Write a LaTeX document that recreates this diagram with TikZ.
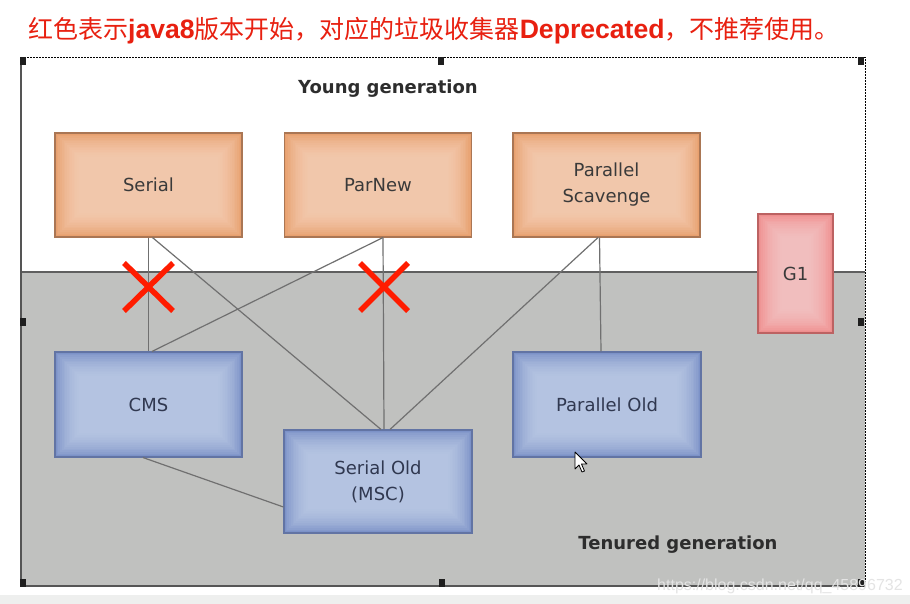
\documentclass[tikz,border=0pt]{standalone}
\usepackage{fontspec}
\newfontfamily\cjk{Noto Sans CJK SC}
\newfontfamily\lat{Liberation Sans}
\newfontfamily\lab{DejaVu Sans}
\definecolor{titlered}{RGB}{232,32,16}
\definecolor{orIn}{RGB}{250,214,190}
\definecolor{orOut}{RGB}{232,160,110}
\definecolor{orBorder}{RGB}{170,118,84}
\definecolor{blIn}{RGB}{198,211,236}
\definecolor{blOut}{RGB}{124,146,200}
\definecolor{blBorder}{RGB}{98,116,164}
\definecolor{pkIn}{RGB}{250,206,206}
\definecolor{pkOut}{RGB}{238,142,142}
\definecolor{pkBorder}{RGB}{188,98,98}
\definecolor{tenured}{RGB}{192,193,191}
\definecolor{sepgray}{RGB}{95,95,95}
\definecolor{framegray}{RGB}{85,85,85}
\definecolor{conngray}{RGB}{112,112,112}
\definecolor{labtext}{RGB}{58,58,58}
\definecolor{oldtext}{RGB}{48,56,80}
\definecolor{gentext}{RGB}{45,45,45}
\definecolor{handlecol}{RGB}{30,30,30}
\definecolor{wmcol}{RGB}{228,228,228}
\definecolor{xred}{RGB}{255,28,0}
\definecolor{strip}{RGB}{238,239,238}
\begin{document}
\begin{tikzpicture}[x=1pt,y=-1pt,
  glow/.style={path picture={
    \foreach \i in {1,...,14}
      \fill[#1, opacity=0.11]
        ([shift={(\i*1.7pt,-\i*1.7pt)}]path picture bounding box.north west) rectangle
        ([shift={(-\i*1.7pt,\i*1.7pt)}]path picture bounding box.south east);}},
  box/.style={rectangle, line width=1.1pt, align=center, inner sep=0pt,
    font=\lab\fontsize{18}{26}\selectfont, text=labtext},
  youngbox/.style={box, draw=orBorder, fill=orOut, glow=orIn,
    minimum width=187pt, minimum height=104pt},
  oldbox/.style={box, draw=blBorder, fill=blOut, glow=blIn,
    minimum width=187pt, minimum height=105pt, text=oldtext},
  g1box/.style={box, draw=pkBorder, fill=pkOut, glow=pkIn,
    minimum width=75pt, minimum height=119pt},
  conn/.style={draw=conngray, line width=1.2pt},
  cross/.style={draw=xred, line width=5.5pt},
  genlabel/.style={font=\lab\bfseries\fontsize{18}{22}\selectfont, text=gentext},
  handle/.style={fill=handlecol}
]
\useasboundingbox (0,0) rectangle (910,604);
\fill[white] (0,0) rectangle (910,604);
\fill[strip] (0,595) rectangle (910,604);

% title
\node[anchor=base west, inner sep=0pt, text=titlered] (title) at (28,39)
  {\cjk\fontsize{25}{25}\selectfont 红色表示{\lat\bfseries\fontsize{26.6}{26}\selectfont java8}版本开始，对应的垃圾收集器{\lat\bfseries\fontsize{26.6}{26}\selectfont Deprecated}，不推荐使用。};

% frame
\fill[white] (21,57) rectangle (865,272);
\fill[tenured] (21,272) rectangle (865,586);
\draw[sepgray, line width=1.8pt] (21,272) -- (865,272);
\draw[framegray, line width=1.5pt] (21,57) -- (21,586) -- (865,586);
\draw[black, line width=0.9pt, dash pattern=on 1.5pt off 1.5pt] (21,57) -- (865,57) -- (865,586);
\foreach \hx/\hy in {23/61, 441/61, 861/61, 23/322, 861/322, 23/583, 442/583, 861/583}
  \fill[handle] (\hx-3,\hy-4) rectangle (\hx+3,\hy+4);

% generation labels
\node[genlabel] (young) at (388,89) {Young generation};
\node[genlabel] (tenuredlbl) at (678,545) {Tenured generation};

% boxes
\node[youngbox] (serial) at (148.5,185) {Serial};
\node[youngbox] (parnew) at (378,185) {ParNew};
\node[youngbox] (ps) at (606.5,185) {Parallel\\Scavenge};
\node[g1box] (g1) at (795.5,273.5) {G1};
\node[oldbox] (cms) at (148.5,404.5) {CMS};
\node[oldbox, minimum width=188pt, minimum height=103pt] (serialold) at (378,481.5) {Serial Old\\(MSC)};
\node[oldbox, minimum width=188pt] (parold) at (607,404.5) {Parallel Old};

% connectors
\draw[conn] (serial.south) -- (cms.north);
\draw[conn] ([xshift=4pt]serial.south) -- ([xshift=3pt]serialold.north);
\draw[conn] ([xshift=5pt]parnew.south) -- ([xshift=3.5pt]cms.north);
\draw[conn] ([xshift=5pt]parnew.south) -- ([xshift=6pt]serialold.north);
\draw[conn] ([xshift=-8.5pt]ps.south) -- ([xshift=12pt]serialold.north);
\draw[conn] ([xshift=-7pt]ps.south) -- ([xshift=-6pt]parold.north);
\draw[conn] ([xshift=-5.5pt]cms.south) -- ([yshift=-25.5pt]serialold.west);

% red crosses
\draw[cross] (124,263) -- (173,311) (173,263) -- (124,311);
\draw[cross] (360,263) -- (408,311) (408,263) -- (360,311);

% mouse cursor
\draw[fill=white, draw=black, line width=0.8pt, line join=round, shift={(575,452)}]
  (0,0) -- (0,17) -- (4,13) -- (7,20) -- (9.5,19) -- (6.5,12) -- (12,12) -- cycle;

% watermark
\node[anchor=base west, inner sep=0pt, text=wmcol,
  font=\lat\fontsize{16}{16}\selectfont] (wm) at (657,590) {https://blog.csdn.net/qq\_45896732};
\end{tikzpicture}
\end{document}
